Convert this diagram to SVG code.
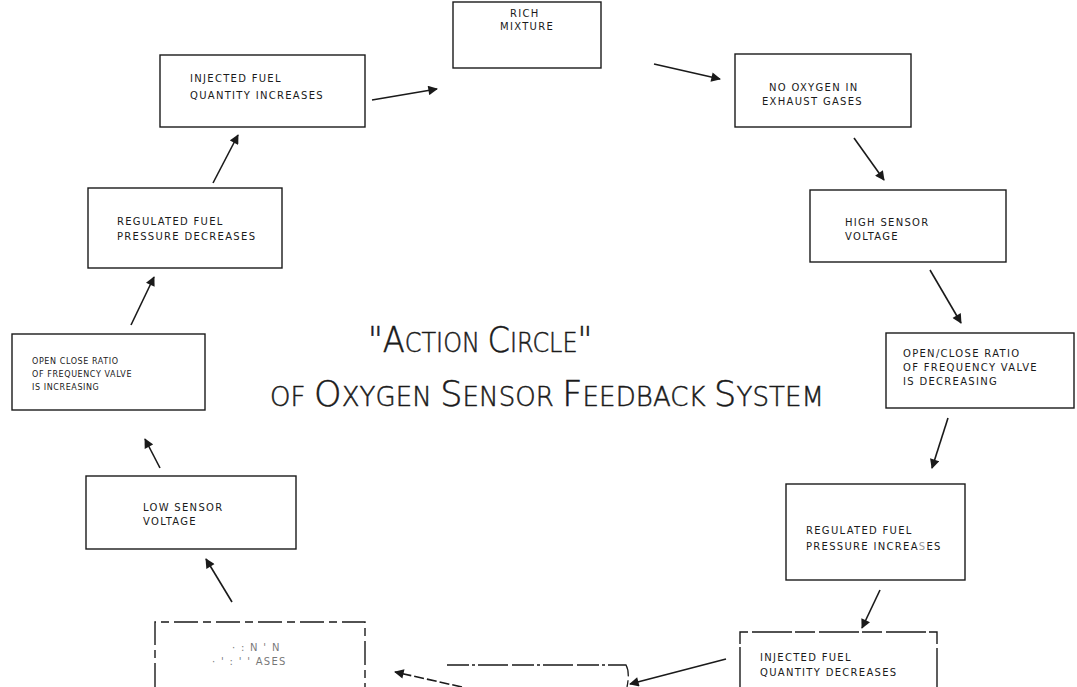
<svg xmlns="http://www.w3.org/2000/svg" width="1077" height="687" viewBox="0 0 1077 687">
<defs>
<style>
.box{fill:#fff;stroke:#1a1a1a;stroke-width:1.4}
.t{font-family:"DejaVu Sans","Liberation Sans",sans-serif;font-size:10px;letter-spacing:1.3px;fill:#1a1a1a}
.ts{font-family:"DejaVu Sans","Liberation Sans",sans-serif;font-size:8px;letter-spacing:0.6px;fill:#1a1a1a}
.c{stroke:#1a1a1a;stroke-width:1.6;fill:none;marker-end:url(#ah)}
.title{font-family:"DejaVu Sans","Liberation Sans",sans-serif;font-weight:200;fill:#1a1a1a;stroke:#1a1a1a;stroke-width:0.5}
</style>
<marker id="ah" viewBox="0 0 10 10" refX="9" refY="5" markerWidth="7" markerHeight="6" orient="auto" markerUnits="strokeWidth">
<path d="M0,0 L10,5 L0,10 z" fill="#1a1a1a"/>
</marker>
</defs>
<rect width="1077" height="687" fill="#fff"/>

<g id="title">
<text class="title" transform="translate(368,352) scale(0.92,1)"><tspan font-size="35">"A</tspan><tspan font-size="26">CTION </tspan><tspan font-size="35">C</tspan><tspan font-size="26">IRCLE</tspan><tspan font-size="35">"</tspan></text>
<text class="title" x="270" y="406" letter-spacing="0.1"><tspan font-size="26">OF </tspan><tspan font-size="35">O</tspan><tspan font-size="26">XYGEN </tspan><tspan font-size="35">S</tspan><tspan font-size="26">ENSOR </tspan><tspan font-size="35">F</tspan><tspan font-size="26">EEDBACK </tspan><tspan font-size="35">S</tspan><tspan font-size="26">YSTEM</tspan></text>
</g>

<g id="rich-mixture">
<rect class="box" x="453" y="2" width="148" height="66"/>
<text class="t" x="510" y="17">RICH</text>
<text class="t" x="500" y="30">MIXTURE</text>
</g>

<g id="no-oxygen">
<rect class="box" x="735" y="54" width="176" height="73"/>
<text class="t" x="769" y="91">NO OXYGEN IN</text>
<text class="t" x="762" y="105">EXHAUST GASES</text>
</g>

<g id="high-sensor">
<rect class="box" x="810" y="190" width="196" height="72"/>
<text class="t" x="845" y="226">HIGH SENSOR</text>
<text class="t" x="845" y="240">VOLTAGE</text>
</g>

<g id="ratio-decreasing">
<rect class="box" x="886" y="333" width="188" height="75"/>
<text class="t" x="903" y="357">OPEN/CLOSE RATIO</text>
<text class="t" x="903" y="371">OF FREQUENCY VALVE</text>
<text class="t" x="903" y="385">IS DECREASING</text>
</g>

<g id="pressure-increases">
<rect class="box" x="786" y="484" width="179" height="96"/>
<text class="t" x="806" y="534">REGULATED FUEL</text>
<text class="t" x="806" y="550">PRESSURE INCREA<tspan fill="#999">S</tspan>ES</text>
</g>

<g id="quantity-decreases">
<path class="box" d="M740,687 V632 H937 V687" stroke-dasharray="40,3,20,4"/>
<text class="t" x="760" y="661">INJECTED FUEL</text>
<text class="t" x="760" y="676">QUANTITY DECREASES</text>
</g>

<g id="bottom-middle">
<path d="M447,665 H626 Q630,672 627,687" fill="none" stroke="#1a1a1a" stroke-width="1.3" stroke-dasharray="22,3,3,3,30,4"/>
</g>

<g id="oxygen-in-exhaust">
<path class="box" d="M155,687 V622 H365 V687" stroke-dasharray="24,5,8,5"/>
<text class="t" x="232" y="651" fill="#777" opacity="0.6" letter-spacing="3">· : N  ' N</text>
<text class="t" x="212" y="665" fill="#777" opacity="0.6" letter-spacing="3">· ' : '   ' ASES</text>
</g>

<g id="low-sensor">
<rect class="box" x="86" y="476" width="210" height="73"/>
<text class="t" x="143" y="511">LOW SENSOR</text>
<text class="t" x="143" y="525">VOLTAGE</text>
</g>

<g id="ratio-increasing">
<rect class="box" x="12" y="334" width="193" height="76"/>
<text class="ts" x="32" y="364">OPEN CLOSE RATIO</text>
<text class="ts" x="32" y="377">OF FREQUENCY VALVE</text>
<text class="ts" x="32" y="390">IS INCREASING</text>
</g>

<g id="pressure-decreases">
<rect class="box" x="88" y="188" width="194" height="80"/>
<text class="t" x="117" y="225">REGULATED FUEL</text>
<text class="t" x="117" y="240">PRESSURE DECREASES</text>
</g>

<g id="quantity-increases">
<rect class="box" x="160" y="55" width="205" height="72"/>
<text class="t" x="190" y="82">INJECTED FUEL</text>
<text class="t" x="190" y="99">QUANTITY INCREASES</text>
</g>

<g id="connectors">
<line class="c" x1="372" y1="100" x2="437" y2="89"/>
<line class="c" x1="654" y1="64" x2="720" y2="79"/>
<line class="c" x1="854" y1="138" x2="884" y2="180"/>
<line class="c" x1="930" y1="270" x2="961" y2="323"/>
<line class="c" x1="948" y1="418" x2="932" y2="468"/>
<line class="c" x1="880" y1="590" x2="862" y2="628"/>
<line class="c" x1="726" y1="659" x2="630" y2="684"/>
<line class="c" x1="462" y1="687" x2="395" y2="672" stroke-dasharray="10,3"/>
<line class="c" x1="232" y1="602" x2="206" y2="559"/>
<line class="c" x1="160" y1="468" x2="145" y2="439"/>
<line class="c" x1="131" y1="325" x2="154" y2="277"/>
<line class="c" x1="213" y1="183" x2="238" y2="135"/>
</g>
</svg>
